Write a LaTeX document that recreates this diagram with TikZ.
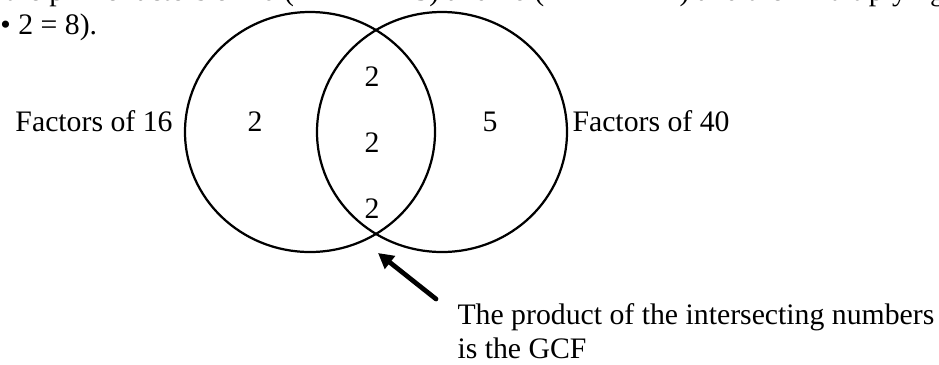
\documentclass[tikz,border=0pt]{standalone}
\usepackage{fontspec}
\setmainfont{Liberation Serif}
\usetikzlibrary{arrows.meta,positioning}
\definecolor{vnInk}{HTML}{000000}
\tikzset{
 venn/.style={font=\fontsize{12}{13.8}\selectfont,text=vnInk,line cap=round,line join=round},
 ring/.style={draw=vnInk,line width=.9pt},
 num/.style={anchor=base,inner sep=0pt},
 tag/.style={anchor=base west,inner sep=0pt},
 pointer/.style={draw=vnInk,line width=1.9pt,-{Triangle[length=6.2pt,width=6.4pt]}}
}
\begin{document}
\begin{tikzpicture}[venn,x=.4032pt,y=.4032pt]
 \useasboundingbox (0,0) rectangle (939,364);
 % running text, cut by the page edge
 \node[tag] (txtA) at (5,364) {the prime factors of 40 (\textbf{2 • 2 • 2} • 5) and 16 (\textbf{2 • 2 • 2} • 2) and then multiplying};
 \node[tag] (txtB) at (0,330) {• 2 = 8).};
 % the two sets
 \coordinate (cL) at (310,232); \coordinate (cR) at (442,232);
 \draw[ring] (cL) ellipse [x radius=125,y radius=120];
 \draw[ring] (cR) ellipse [x radius=125,y radius=120];
 \node[tag] (setL) at (15,233) {Factors of 16};
 \node[tag] (setR) at (572,233) {Factors of 40};
 \node[num] (onlyL) at (255,233) {2};
 \node[num] (bothA) at (372,278) {2};
 \node[num] (bothB) at (372,212) {2};
 \node[num] (bothC) at (372,146) {2};
 \node[num] (onlyR) at (490,233) {5};
 % pointer to the overlap
 \coordinate (meet) at (378,111);
 \coordinate (tail) at (436,65);
 \draw[pointer] (tail) -- (meet);
 \node[tag] (gcfA) at (457,40) {The product of the intersecting numbers};
 \node[tag] (gcfB) at (457,6) {is the GCF};
\end{tikzpicture}
\end{document}
